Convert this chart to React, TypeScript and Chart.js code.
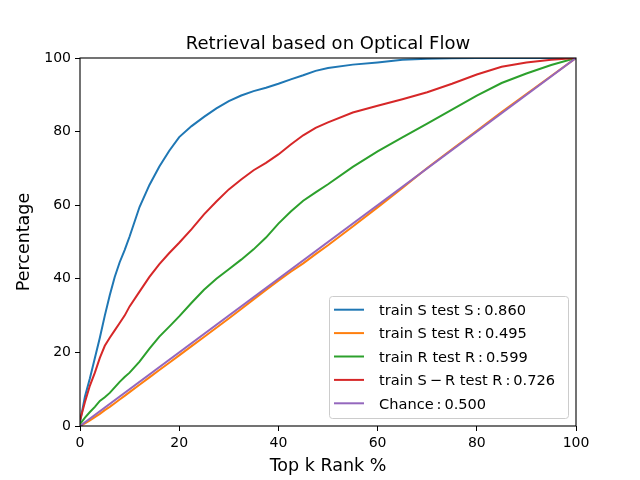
import { useEffect, useRef } from "react";
import { Chart, registerables } from "chart.js";
import type { Plugin } from "chart.js";

Chart.register(...registerables);

const FONT = "'DejaVu Sans', 'Liberation Sans', sans-serif";

const titleText = "Retrieval based on Optical Flow";
const xTitle = "Top k Rank %";
const yTitle = "Percentage";

// x positions (top k rank, %) shared by the four measured curves
const rankPct = [
  0, 1, 2, 3, 4, 5, 6, 7, 8, 9, 10, 12, 14, 16, 18, 20, 22.5, 25, 27.5, 30,
  32.5, 35, 37.5, 40, 42.5, 45, 47.5, 50, 55, 60, 65, 70, 75, 80, 85, 90, 95, 100,
];

const trainSTestS = [
  1, 8, 13, 18.5, 24, 30, 35.5, 40.5, 44.5, 47.8, 51.5, 59.5, 65.5, 70.5, 74.8,
  78.5, 81.5, 84, 86.3, 88.3, 89.8, 91, 91.9, 93, 94.2, 95.3, 96.5, 97.3, 98.2,
  98.8, 99.5, 99.8, 99.9, 100, 100, 100, 100, 100,
];

const trainSTestR = [
  0, 0.7, 1.5, 2.4, 3.3, 4.3, 5.2, 6.2, 7.2, 8.2, 9.2, 11.2, 13.2, 15.2, 17.2,
  19.2, 21.7, 24.2, 26.7, 29.2, 31.8, 34.4, 37, 39.5, 41.9, 44.2, 46.7, 49.1,
  54.2, 59.4, 64.7, 70.1, 75.2, 80.2, 85.3, 90.2, 95.1, 100,
];

const trainRTestR = [
  0.5, 2.3, 3.8, 5.2, 6.8, 7.8, 9, 10.5, 12, 13.3, 14.5, 17.5, 21, 24.3, 27,
  29.8, 33.5, 37, 40, 42.6, 45.2, 48, 51.2, 55, 58.3, 61.2, 63.5, 65.7, 70.4,
  74.6, 78.4, 82.2, 86, 89.8, 93.2, 95.8, 98.1, 100,
];

const trainSRTestR = [
  1.5, 6.5, 11, 14.5, 18.5, 21.8, 24, 26, 28, 30, 32.5, 36.5, 40.5, 44, 47,
  49.8, 53.5, 57.5, 61, 64.3, 67, 69.5, 71.5, 73.8, 76.5, 79, 81, 82.5, 85.2,
  87, 88.8, 90.7, 93, 95.5, 97.6, 98.8, 99.5, 100,
];

const chanceX = [0, 100];
const chanceY = [0, 100];

const seriesLabels = [
  "train S test S\u2009:\u20090.860",
  "train S test R\u2009:\u20090.495",
  "train R test R\u2009:\u20090.599",
  "train S\u2009\u2212\u2009R test R\u2009:\u20090.726",
  "Chance\u2009:\u20090.500",
];
const seriesColors = ["#1f77b4", "#ff7f0e", "#2ca02c", "#d62728", "#9467bd"];

const toPoints = (xs: number[], ys: number[]) =>
  xs.map((x, i) => ({ x, y: ys[i] }));

// title, full frame and matplotlib-like legend in the lower right corner
const framePlugin: Plugin<"line"> = {
  id: "frame",
  afterDraw(chart) {
    const { ctx, chartArea: a } = chart;
    ctx.save();

    ctx.fillStyle = "#000";
    ctx.font = `18px ${FONT}`;
    ctx.textAlign = "center";
    ctx.textBaseline = "alphabetic";
    ctx.fillText(titleText, (a.left + a.right) / 2, a.top - 9.3);

    ctx.strokeStyle = "#000";
    ctx.lineWidth = 1.1;
    ctx.strokeRect(
      Math.round(a.left),
      Math.round(a.top),
      Math.round(a.right - a.left),
      Math.round(a.bottom - a.top),
    );

    const w = 240;
    const h = 123;
    const lx = a.right - 7 - w;
    const ly = a.bottom - 7 - h;
    ctx.fillStyle = "rgba(255,255,255,0.8)";
    ctx.strokeStyle = "#cccccc";
    ctx.lineWidth = 1;
    ctx.beginPath();
    ctx.roundRect(lx + 0.5, ly + 0.5, w - 1, h - 1, 3);
    ctx.fill();
    ctx.stroke();

    ctx.font = `14.6px ${FONT}`;
    ctx.textAlign = "left";
    seriesLabels.forEach((label, i) => {
      const y = ly + 13.7 + i * 23.4;
      ctx.strokeStyle = seriesColors[i];
      ctx.lineWidth = 2;
      ctx.beginPath();
      ctx.moveTo(lx + 5, y);
      ctx.lineTo(lx + 35, y);
      ctx.stroke();
      ctx.fillStyle = "#000";
      ctx.fillText(label, lx + 50, y + 5.3);
    });

    ctx.restore();
  },
};

export default function App() {
  const canvasRef = useRef<HTMLCanvasElement | null>(null);

  useEffect(() => {
    document.body.style.margin = "0";
    const canvas = canvasRef.current;
    if (!canvas) {
      return;
    }

    const series = [trainSTestS, trainSTestR, trainRTestR, trainSRTestR];

    const axis = (title: string, isX: boolean) => ({
      type: "linear" as const,
      min: 0,
      max: 100,
      ticks: {
        stepSize: 20,
        color: "#000",
        padding: 4,
        font: { family: FONT, size: 14 },
      },
      grid: {
        drawOnChartArea: false,
        drawTicks: true,
        tickLength: 5,
        color: "#000",
        lineWidth: 1,
      },
      border: { display: false },
      title: {
        display: true,
        text: title,
        color: "#000",
        font: { family: FONT, size: 17.5 },
        padding: isX ? { top: 0, bottom: 3.5 } : { top: 13.5, bottom: 0 },
      },
      afterFit(scale: any) {
        if (isX) {
          scale.height = 54;
        } else {
          scale.width = 80;
        }
      },
    });

    const chart = new Chart(canvas, {
      type: "line",
      data: {
        datasets: [
          ...series.map((values, index) => ({
            label: seriesLabels[index],
            data: toPoints(rankPct, values),
            borderColor: seriesColors[index],
            backgroundColor: seriesColors[index],
            order: 5 - index,
          })),
          {
            label: seriesLabels[4],
            data: toPoints(chanceX, chanceY),
            borderColor: seriesColors[4],
            backgroundColor: seriesColors[4],
            order: 1,
          },
        ],
      },
      options: {
        animation: false,
        responsive: true,
        maintainAspectRatio: false,
        events: [],
        layout: { padding: { top: 58, right: 64, bottom: 0, left: 0 } },
        elements: {
          line: { borderWidth: 2, tension: 0, fill: false },
          point: { radius: 0 },
        },
        scales: {
          x: axis(xTitle, true),
          y: axis(yTitle, false),
        },
        plugins: {
          legend: { display: false },
          title: { display: false },
          tooltip: { enabled: false },
        },
      },
      plugins: [framePlugin],
    });

    return () => {
      chart.destroy();
    };
  }, []);

  return (
    <div style={{ position: "relative", width: 640, height: 480 }}>
      <canvas ref={canvasRef} />
    </div>
  );
}
